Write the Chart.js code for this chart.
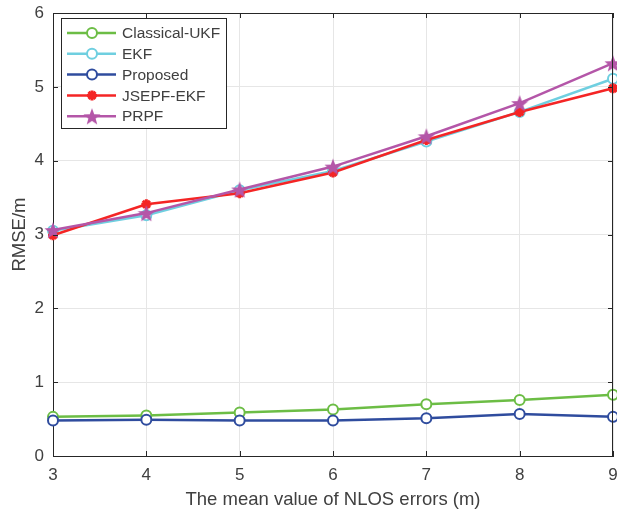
<!DOCTYPE html>
<html>
<head>
<meta charset="utf-8">
<script src="https://cdn.jsdelivr.net/npm/chart.js@4.4.0/dist/chart.umd.min.js"></script>
<style>
html, body { margin: 0; padding: 0; background: #fff; }
#wrap { width: 617px; height: 515px; }
</style>
</head>
<body>
<div id="wrap"><canvas id="chart"></canvas></div>
<script>
// x: mean value of NLOS errors (m)
const nlosMeans = [3, 4, 5, 6, 7, 8, 9];
const yTicks = [0, 1, 2, 3, 4, 5, 6];
const seriesNames = ["Classical-UKF", "EKF", "Proposed", "JSEPF-EKF", "PRPF"];

// RMSE/m
const ukf      = [0.53, 0.55, 0.59, 0.63, 0.70, 0.76, 0.83];
const ekf      = [3.05, 3.26, 3.60, 3.86, 4.26, 4.66, 5.11];
const proposed = [0.48, 0.49, 0.48, 0.48, 0.51, 0.57, 0.53];
const jsepf    = [2.99, 3.41, 3.56, 3.84, 4.28, 4.66, 4.98];
const prpf     = [3.06, 3.29, 3.61, 3.92, 4.33, 4.78, 5.32];

const colors = ["#6cbd45", "#6fcfe0", "#2f4c9e", "#f42525", "#b456a8"];
const FONT = "'Liberation Sans', Arial, sans-serif";
const TXT = "#404040";

// filled pentagram for PRPF
function makeStar(size, color) {
  let c = document.createElement("canvas");
  c.width = size; c.height = size;
  let g = c.getContext("2d");
  let cx = size / 2, cy = size / 2 + 1, R = size / 2, r = R * 0.42;
  g.beginPath();
  for (let i = 0; i < 10; i++) {
    let rad = i % 2 ? r : R;
    let a = -Math.PI / 2 + i * Math.PI / 5;
    g.lineTo(cx + rad * Math.cos(a), cy + rad * Math.sin(a));
  }
  g.closePath();
  g.fillStyle = color;
  g.fill();
  return c;
}
const starImg = makeStar(18, colors[4]);

function pts(arr) {
  return nlosMeans.map((x, i) => ({ x: x, y: arr[i] }));
}

function lineSet(i, arr, extra) {
  return Object.assign({
    label: seriesNames[i],
    data: pts(arr),
    borderColor: colors[i],
    borderWidth: 2.5,
    pointBorderColor: colors[i],
    pointBackgroundColor: "#fff",
    pointBorderWidth: 2,
    pointRadius: 5,
    pointStyle: "circle",
    order: 4 - i,
    tension: 0,
    clip: 10
  }, extra || {});
}

const datasets = [
  lineSet(0, ukf),
  lineSet(1, ekf),
  lineSet(2, proposed),
  lineSet(3, jsepf, { pointStyle: "star", pointRadius: 5, pointBorderWidth: 3, pointBackgroundColor: colors[3] }),
  lineSet(4, prpf, { pointStyle: starImg, pointRadius: 9 })
];

// box, inner ticks and legend, MATLAB style
const matlabLook = {
  id: "matlabLook",
  afterDraw(chart) {
    let ctx = chart.ctx;
    let a = chart.chartArea;
    let xs = chart.scales.x, ys = chart.scales.y;
    ctx.save();
    ctx.strokeStyle = "#262626";
    ctx.lineWidth = 1;
    ctx.beginPath();
    ctx.moveTo(a.left, a.top + 0.5); ctx.lineTo(a.right, a.top + 0.5);
    ctx.moveTo(a.right - 0.5, a.top); ctx.lineTo(a.right - 0.5, a.bottom);
    nlosMeans.forEach(v => {
      let px = Math.round(xs.getPixelForValue(v)) + 0.5;
      ctx.moveTo(px, a.bottom); ctx.lineTo(px, a.bottom - 5);
      ctx.moveTo(px, a.top); ctx.lineTo(px, a.top + 5);
    });
    yTicks.forEach(v => {
      let py = Math.round(ys.getPixelForValue(v)) + 0.5;
      ctx.moveTo(a.left, py); ctx.lineTo(a.left + 5, py);
      ctx.moveTo(a.right, py); ctx.lineTo(a.right - 5, py);
    });
    ctx.stroke();

    // legend
    let lx = 61, ly = 18, lw = 165, lh = 110;
    ctx.fillStyle = "#fff";
    ctx.fillRect(lx, ly, lw, lh);
    ctx.strokeStyle = "#262626";
    ctx.strokeRect(lx + 0.5, ly + 0.5, lw, lh);
    ctx.font = "15.5px " + FONT;
    ctx.textBaseline = "middle";
    datasets.forEach((ds, i) => {
      let y = ly + 15 + i * 20.8;
      ctx.strokeStyle = ds.borderColor;
      ctx.lineWidth = ds.borderWidth;
      ctx.beginPath();
      ctx.moveTo(lx + 6, y); ctx.lineTo(lx + 55, y);
      ctx.stroke();
      let mx = lx + 31;
      if (ds.pointStyle === "circle") {
        ctx.beginPath();
        ctx.arc(mx, y, ds.pointRadius, 0, Math.PI * 2);
        ctx.fillStyle = "#fff";
        ctx.fill();
        ctx.lineWidth = ds.pointBorderWidth;
        ctx.stroke();
      } else if (ds.pointStyle === "star") {
        ctx.lineWidth = ds.pointBorderWidth;
        ctx.beginPath();
        for (let k = 0; k < 4; k++) {
          let ang = k * Math.PI / 4;
          let dx = Math.cos(ang) * ds.pointRadius, dy = Math.sin(ang) * ds.pointRadius;
          ctx.moveTo(mx - dx, y - dy); ctx.lineTo(mx + dx, y + dy);
        }
        ctx.stroke();
      } else {
        ctx.drawImage(ds.pointStyle, mx - 9, y - 9);
      }
      ctx.fillStyle = TXT;
      ctx.fillText(ds.label, lx + 61, y + 1);
    });
    ctx.restore();
  }
};

new Chart(document.getElementById("chart"), {
  type: "line",
  data: { datasets: datasets },
  options: {
    responsive: true,
    maintainAspectRatio: false,
    animation: false,
    layout: { autoPadding: false, padding: { top: 13, right: 4, left: 0, bottom: 0 } },
    plugins: { legend: { display: false }, tooltip: { enabled: false } },
    scales: {
      x: {
        type: "linear",
        min: 3, max: 9,
        afterBuildTicks: ax => { ax.ticks = nlosMeans.map(v => ({ value: v })); },
        afterFit: ax => { ax.height = 59; ax.paddingLeft = 0; ax.paddingRight = 0; },
        grid: { color: "#e6e6e6", drawTicks: false },
        border: { color: "#262626", width: 1 },
        ticks: { color: TXT, font: { family: FONT, size: 17 }, padding: 9, maxRotation: 0 },
        title: { display: true, text: "The mean value of NLOS errors (m)", color: TXT,
                 font: { family: FONT, size: 18.5 }, padding: { top: 5 } }
      },
      y: {
        min: 0, max: 6,
        afterBuildTicks: ax => { ax.ticks = yTicks.map(v => ({ value: v })); },
        afterFit: ax => { ax.width = 53; ax.paddingTop = 0; ax.paddingBottom = 0; },
        grid: { color: "#e6e6e6", drawTicks: false },
        border: { color: "#262626", width: 1 },
        ticks: { color: TXT, font: { family: FONT, size: 17 }, padding: 9 },
        title: { display: true, text: "RMSE/m", color: TXT,
                 font: { family: FONT, size: 18.5 }, padding: { top: 9 } }
      }
    }
  },
  plugins: [matlabLook]
});
</script>
</body>
</html>
